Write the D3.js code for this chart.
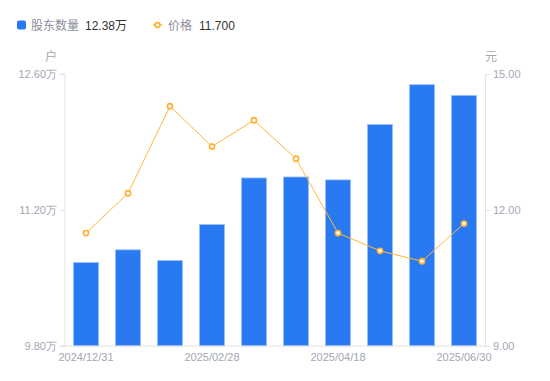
<!DOCTYPE html>
<html>
<head>
<meta charset="utf-8">
<script src="https://cdn.jsdelivr.net/npm/d3@7/dist/d3.min.js"></script>
<style>
  body { margin: 0; background: #fff; }
  svg { font-family: "Liberation Sans", Arial, "Noto Sans CJK SC", sans-serif; }
</style>
</head>
<body>
<div id="chart"></div>
<script>
var dates = ["2024/12/31", "2025/01/10", "2025/01/20", "2025/02/28", "2025/03/10",
  "2025/03/31", "2025/04/18", "2025/05/20", "2025/06/10", "2025/06/30"];
var holders = [10.66, 10.79, 10.68, 11.05, 11.53, 11.54, 11.51, 12.08, 12.49, 12.38];
var prices = [11.49, 12.37, 14.29, 13.40, 13.98, 13.13, 11.49, 11.10, 10.87, 11.70];
var leftTicks = [9.80, 11.20, 12.60];
var rightTicks = [9.00, 12.00, 15.00];
var shownDates = ["2024/12/31", "2025/02/28", "2025/04/18", "2025/06/30"];

var svgWidth = 550;
var svgHeight = 381;
var margin = { top: 74, right: 65, bottom: 35, left: 65 };
var chartWidth = svgWidth - margin.left - margin.right;
var chartHeight = svgHeight - margin.top - margin.bottom;

var axisColor = "#e3e3e3";
var labelColor = "#a3a6b4";

var svg = d3.select("#chart")
  .append("svg")
  .attr("width", svgWidth)
  .attr("height", svgHeight);

var g = svg.append("g")
  .attr("transform", `translate(${margin.left}, ${margin.top})`);

var x = d3.scaleBand()
  .domain(dates)
  .range([0, chartWidth])
  .paddingInner(0.4)
  .paddingOuter(0.2);

var xCenter = d3.scaleBand().domain(dates).range([0, chartWidth]);

var yLeft = d3.scaleLinear().domain([9.8, 12.6]).range([chartHeight, 0]);
var yRight = d3.scaleLinear().domain([9, 15]).range([chartHeight, 0]);

// bars
g.selectAll("rect.bar")
  .data(holders)
  .enter()
  .append("rect")
  .attr("class", "bar")
  .attr("x", (d, i) => x(dates[i]))
  .attr("y", d => yLeft(d))
  .attr("width", x.bandwidth())
  .attr("height", d => chartHeight - yLeft(d))
  .attr("fill", "#2979f2")
  .attr("stroke", "#9cc2fb")
  .attr("stroke-width", 0.8);

// axes
var leftAxis = d3.axisLeft(yLeft)
  .tickValues(leftTicks)
  .tickSize(5)
  .tickPadding(3)
  .tickFormat(d => d.toFixed(2) + "万");

var rightAxis = d3.axisRight(yRight)
  .tickValues(rightTicks)
  .tickSize(5)
  .tickPadding(3)
  .tickFormat(d => d.toFixed(2));

var bottomAxis = d3.axisBottom(xCenter)
  .tickValues(shownDates)
  .tickSize(0)
  .tickPadding(7);

function styleAxis(sel) {
  sel.select(".domain").attr("stroke", axisColor);
  sel.selectAll(".tick line").attr("stroke", axisColor);
  sel.selectAll(".tick text").attr("fill", labelColor).attr("font-size", 11);
}

g.append("g").call(leftAxis).call(styleAxis)
  .select(".domain").attr("d", `M-5,0H0V${chartHeight}H-5`);
g.append("g").attr("transform", `translate(${chartWidth},0)`).call(rightAxis).call(styleAxis);
g.append("g").attr("transform", `translate(0,${chartHeight})`).call(bottomAxis).call(styleAxis)
  .select(".domain").attr("d", `M-3,0H${chartWidth}`);

// unit labels
g.append("text").attr("x", -8).attr("y", -13).attr("text-anchor", "end")
  .attr("fill", labelColor).attr("font-size", 12).text("户");
g.append("text").attr("x", 0).attr("y", -13).attr("text-anchor", "start")
  .attr("transform", `translate(${chartWidth},0)`)
  .attr("fill", labelColor).attr("font-size", 12).text("元");

// price line
var line = d3.line()
  .x((d, i) => xCenter(dates[i]) + xCenter.bandwidth() / 2)
  .y(d => yRight(d));

g.append("path")
  .datum(prices)
  .attr("d", line)
  .attr("fill", "none")
  .attr("stroke", "#ffb836")
  .attr("stroke-width", 1);

g.selectAll("circle.pt")
  .data(prices)
  .enter()
  .append("circle")
  .attr("class", "pt")
  .attr("cx", (d, i) => xCenter(dates[i]) + xCenter.bandwidth() / 2)
  .attr("cy", d => yRight(d))
  .attr("r", 2.6)
  .attr("fill", "#fff")
  .attr("stroke", "#ffb031")
  .attr("stroke-width", 1.6);

// legend
var legend = svg.append("g").attr("transform", "translate(0,25)");
legend.append("rect").attr("x", 17).attr("y", -4.5).attr("width", 9).attr("height", 9)
  .attr("rx", 2).attr("fill", "#2979f2");
legend.append("text").attr("x", 31).attr("y", 4.5).attr("font-size", 12)
  .attr("fill", "#8b8e9b").text("股东数量");
legend.append("text").attr("x", 85).attr("y", 4.5).attr("font-size", 12)
  .attr("fill", "#333").text(holders[holders.length - 1].toFixed(2) + "万");

legend.append("line").attr("x1", 153).attr("x2", 162).attr("y1", 0).attr("y2", 0)
  .attr("stroke", "#ffb836").attr("stroke-width", 1.5);
legend.append("circle").attr("cx", 157.5).attr("cy", 0).attr("r", 2.4)
  .attr("fill", "#fff").attr("stroke", "#ffb031").attr("stroke-width", 1.6);
legend.append("text").attr("x", 168).attr("y", 4.5).attr("font-size", 12)
  .attr("fill", "#8b8e9b").text("价格");
legend.append("text").attr("x", 199).attr("y", 4.5).attr("font-size", 12)
  .attr("fill", "#333").text(prices[prices.length - 1].toFixed(3));
</script>
</body>
</html>
